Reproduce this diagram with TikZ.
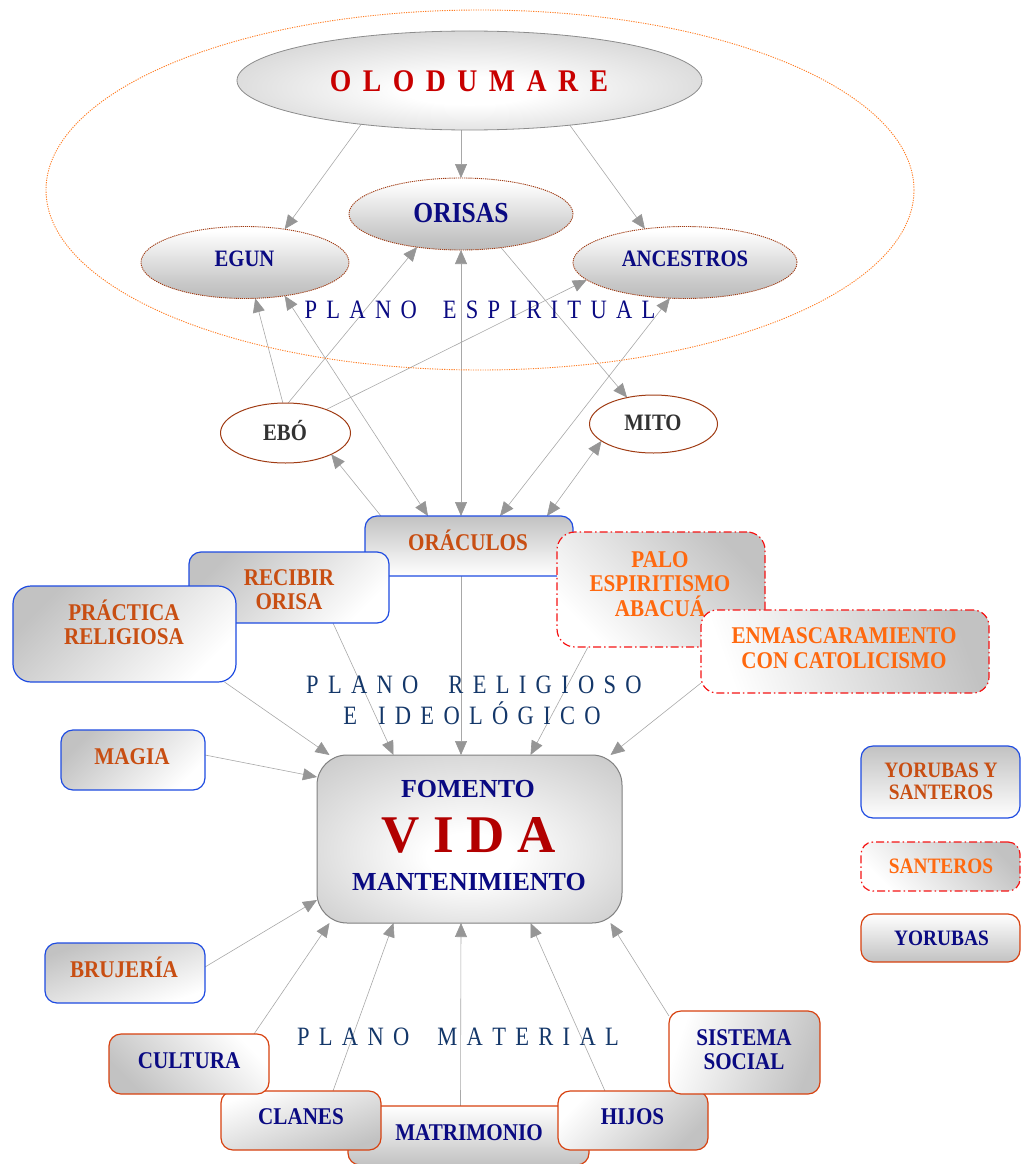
\documentclass[tikz,border=0pt]{standalone}
\usepackage{fontspec}
\setmainfont{Liberation Serif}
\newfontfamily\labfam[FakeStretch=0.88]{Liberation Serif}
\newfontfamily\planofam[FakeStretch=0.85]{Liberation Serif}
\usetikzlibrary{shapes.geometric,arrows.meta,backgrounds}

% letter-spaced words: \lsw{WORD} puts \lsdim between the letters
\newdimen\lsdim
\def\lsw#1{\lswA#1\relax}
\def\lswA#1#2{#1\ifx\relax#2\else\kern\lsdim\expandafter\lswA\fi#2}

\definecolor{navyT}{RGB}{10,10,130}
\definecolor{redT}{RGB}{200,0,0}
\definecolor{vidaR}{RGB}{178,0,0}
\definecolor{brownT}{RGB}{200,78,18}
\definecolor{orangeT}{RGB}{255,105,15}
\definecolor{planoB}{RGB}{20,55,105}
\definecolor{blueB}{RGB}{30,75,225}
\definecolor{redB}{RGB}{245,20,20}
\definecolor{yorB}{RGB}{215,65,15}
\definecolor{ellB}{RGB}{160,60,20}
\definecolor{spiritO}{RGB}{255,125,35}
\definecolor{darkT}{RGB}{50,50,50}
\definecolor{lineG}{RGB}{168,168,168}
\definecolor{tipG}{RGB}{150,150,150}

\pgfdeclareradialshading{glow}{\pgfpoint{0bp}{-6bp}}{color(0bp)=(white); color(7bp)=(white); color(40bp)=(black!24); color(50bp)=(black!26)}
\pgfdeclareverticalshading{orbshade}{100bp}{color(0bp)=(black!36); color(35bp)=(black!22); color(72bp)=(white); color(92bp)=(white); color(100bp)=(black!6)}

\tikzset{
  lab/.style={inner sep=0pt, outer sep=0pt, align=center},
  boxT/.style={lab, font=\labfam\bfseries\fontsize{24}{24.5}\selectfont},
  legT/.style={lab, font=\labfam\bfseries\fontsize{22}{22}\selectfont},
  ellT/.style={lab, anchor=base, font=\labfam\bfseries\fontsize{23.5}{26}\selectfont},
  plano/.style={lab, anchor=base, text=planoB, font=\planofam\fontsize{26.5}{30}\selectfont},
  orb/.style={ellipse, shade, shading=orbshade, draw=ellB, line width=0.9pt,
    dash pattern=on 1.2pt off 0.9pt, inner sep=0pt, outer sep=0pt},
  plainell/.style={ellipse, draw=ellB, fill=white, line width=1pt, inner sep=0pt, outer sep=0pt},
  shd/.style={top color=black!24, bottom color=white, shading angle=#1},
  basebox/.style={rectangle, rounded corners=12pt, line width=1.2pt, inner sep=0pt, outer sep=0pt},
  bluebox/.style={basebox, draw=blueB},
  dashbox/.style={basebox, draw=redB, dash pattern=on 8pt off 3pt on 1.5pt off 3pt},
  orgbox/.style={basebox, draw=yorB},
  arr/.style={draw=lineG, line width=0.6pt, -{Triangle[length=14pt,width=12pt,color=tipG]}},
  arrb/.style={draw=lineG, line width=0.6pt,
    {Triangle[length=14pt,width=12pt,color=tipG]}-{Triangle[length=14pt,width=12pt,color=tipG]}},
}

\begin{document}
\begin{tikzpicture}[x=1pt, y=-1pt]
\useasboundingbox (0,0) rectangle (1021,1164);

% ---------- spiritual plane ----------
\node[ellipse, draw=spiritO, line width=0.9pt, dash pattern=on 1.2pt off 1.2pt,
      minimum width=868pt, minimum height=360pt, inner sep=0pt] (spirit) at (480,190) {};

\node[ellipse, shade, shading=glow, draw=black!45, line width=0.8pt,
      minimum width=465pt, minimum height=99pt, inner sep=0pt, outer sep=0pt] (olo) at (469.5,80.5) {};
\node[lab, anchor=base, text=redT, font=\labfam\bfseries\fontsize{31.5}{34}\selectfont]
      (oloT) at (469,91.4) {\lsdim=11.5pt\relax\lsw{OLODUMARE}};

\node[orb, minimum width=224pt, minimum height=72pt] (orisas) at (461,214) {};
\node[ellT, text=navyT, font=\labfam\bfseries\fontsize{29}{32}\selectfont] (orisasT) at (461,222.6) {ORISAS};

\node[orb, minimum width=208pt, minimum height=72pt] (egun) at (245,262.5) {};
\node[ellT, text=navyT] (egunT) at (244.5,266.8) {EGUN};

\node[orb, minimum width=224pt, minimum height=72pt] (anc) at (685,262.5) {};
\node[ellT, text=navyT] (ancT) at (685,266.8) {ANCESTROS};

\node[plano, text=navyT] (planoE) at (480,318) {\lsdim=9.3pt\relax\lsw{PLANO}\hspace{26pt}\lsw{ESPIRITUAL}};

\node[plainell, minimum width=130pt, minimum height=60pt] (ebo) at (285.5,433) {};
\node[ellT, text=darkT] (eboT) at (285,440) {EBÓ};

\node[plainell, minimum width=128pt, minimum height=58pt] (mito) at (653.5,424) {};
\node[ellT, text=darkT] (mitoT) at (653,430.3) {MITO};

% ---------- religious and ideological plane ----------
\node[bluebox, shd=0, minimum width=208pt, minimum height=60pt] (orac) at (469,546) {};
\node[boxT, anchor=base, text=brownT] (oracT) at (468,550) {ORÁCULOS};

\node[bluebox, shd=45, minimum width=200pt, minimum height=71pt] (rec) at (289,587.5) {};
\node[boxT, text=brownT] (recT) at (289,589.5) {RECIBIR\\ORISA};

\node[bluebox, shd=45, rounded corners=18pt, minimum width=223pt, minimum height=96pt] (prac) at (124.5,634) {};
\node[boxT, text=brownT] (pracT) at (124,622.5) {PRÁCTICA\\RELIGIOSA};

\node[dashbox, shd=-45, rounded corners=18pt, minimum width=208pt, minimum height=115pt] (palo) at (661,589.5) {};
\node[boxT, text=orangeT] (paloT) at (660,584) {PALO\\ESPIRITISMO\\ABACUÁ};

\node[dashbox, shd=-70, rounded corners=16pt, minimum width=288pt, minimum height=83pt] (enm) at (845,651.5) {};
\node[boxT, text=orangeT] (enmT) at (844,648) {ENMASCARAMIENTO\\CON CATOLICISMO};

\node[plano] (planoR) at (474,693) {\lsdim=9.3pt\relax\lsw{PLANO}\hspace{30pt}\lsw{RELIGIOSO}};
\node[plano] (planoI) at (472,724.7) {\lsdim=9.3pt\relax\lsw{E}\hspace{21pt}\lsw{IDEOLÓGICO}};

\node[bluebox, shd=45, minimum width=144pt, minimum height=60pt] (magia) at (133,760) {};
\node[boxT, anchor=base, text=brownT] (magiaT) at (132,764) {MAGIA};

\node[bluebox, shd=20, minimum width=160pt, minimum height=60pt] (bruj) at (125,973) {};
\node[boxT, anchor=base, text=brownT] (brujT) at (124,977) {BRUJERÍA};

% ---------- life ----------
\node[rectangle, rounded corners=30pt, shade, shading=glow, draw=black!50, line width=1pt,
      minimum width=305pt, minimum height=168pt, inner sep=0pt, outer sep=0pt] (vida) at (469.5,839) {};
\node[lab, anchor=base, text=navyT, font=\bfseries\fontsize{26}{30}\selectfont] (fomT) at (468,797) {FOMENTO};
\node[lab, anchor=base, text=vidaR, font=\bfseries\fontsize{53}{56}\selectfont] (vidaT) at (469,852) {\lsdim=13pt\relax\lsw{VIDA}};
\node[lab, anchor=base, text=navyT, font=\bfseries\fontsize{26}{30}\selectfont] (manT) at (469,890) {MANTENIMIENTO};

% ---------- key ----------
\node[bluebox, shd=0, minimum width=159pt, minimum height=72pt] (leg1) at (940.5,782) {};
\node[legT, text=brownT] (leg1T) at (941,781.6) {YORUBAS Y\\SANTEROS};
\node[dashbox, shd=-45, minimum width=159pt, minimum height=49pt] (leg2) at (940.5,866.5) {};
\node[legT, anchor=base, text=orangeT] (leg2T) at (941,873) {SANTEROS};
\node[orgbox, shd=180, minimum width=159pt, minimum height=48pt] (leg3) at (940.5,938) {};
\node[legT, anchor=base, text=navyT] (leg3T) at (941.5,945) {YORUBAS};

% ---------- material plane ----------
\node[orgbox, shd=180, minimum width=241pt, minimum height=59pt] (matr) at (468.5,1135.5) {};
\node[boxT, anchor=base, text=navyT] (matrT) at (469,1140) {MATRIMONIO};

\node[orgbox, shd=200, minimum width=160pt, minimum height=59pt] (clan) at (301,1120.5) {};
\node[boxT, anchor=base, text=navyT] (clanT) at (301,1124) {CLANES};

\node[orgbox, shd=225, minimum width=150pt, minimum height=59pt] (hijos) at (633,1120.5) {};
\node[boxT, anchor=base, text=navyT] (hijosT) at (632.5,1124) {HIJOS};

\node[orgbox, shd=135, minimum width=160pt, minimum height=60pt] (cult) at (189,1064) {};
\node[boxT, anchor=base, text=navyT] (cultT) at (189,1068) {CULTURA};

\node[orgbox, shd=250, minimum width=151pt, minimum height=83pt] (sist) at (744.5,1052.5) {};
\node[boxT, text=navyT] (sistT) at (744,1049.5) {SISTEMA\\SOCIAL};

\node[plano] (planoM) at (458,1045) {\lsdim=9.3pt\relax\lsw{PLANO}\hspace{28pt}\lsw{MATERIAL}};

% ---------- connectors ----------
\begin{pgfonlayer}{background}
  \draw[arr] (olo.202) -- (egun.40);
  \draw[arr] ([xshift=-8.5pt]olo.south) -- (orisas.north);
  \draw[arr] (olo.336) -- (anc.140);

  \draw[arr] (ebo.95) -- (egun.286);
  \draw[arr] (ebo.85) -- (orisas.217);
  \draw[arr] (ebo.30) -- (anc.190);

  \draw[arrb] ([xshift=-41pt]orac.north) -- (egun.320);
  \draw[arrb] ([xshift=-8pt]orac.north) -- (orisas.south);
  \draw[arrb] ([xshift=31pt]orac.north) -- (anc.247);
  \draw[arr] (orisas.320) -- (mito.135);
  \draw[arrb] ([xshift=78pt]orac.north) -- (mito.198);
  \draw[arr] ([xshift=-88pt]orac.north) -- (ebo.335);

  \draw[arr] ([xshift=100pt]prac.south) -- ([xshift=-140pt]vida.north);
  \draw[arr] ([xshift=44pt]rec.south) -- ([xshift=-76pt]vida.north);
  \draw[arr] ([xshift=-8pt]orac.south) -- ([xshift=-8.5pt]vida.north);
  \draw[arr] ([xshift=-73pt]palo.south) -- ([xshift=61pt]vida.north);
  \draw[arr] ([yshift=10pt]enm.south west) -- ([xshift=141pt]vida.north);
  \draw[arr] ([yshift=5pt]magia.east) -- ([yshift=62pt]vida.west);
  \draw[arr] ([yshift=6pt]bruj.east) -- ([yshift=-61pt]vida.west);

  \draw[arr] ([xshift=65pt]cult.north) -- ([xshift=-140pt]vida.south);
  \draw[arr] ([xshift=32pt]clan.north) -- ([xshift=-76pt]vida.south);
  \draw[arr] ([xshift=-8pt]matr.north) -- ([xshift=-8.5pt]vida.south);
  \draw[arr] ([xshift=-28pt]hijos.north) -- ([xshift=61pt]vida.south);
  \draw[arr] ([yshift=-5pt]sist.north west) -- ([xshift=141pt]vida.south);
\end{pgfonlayer}
\end{tikzpicture}
\end{document}
